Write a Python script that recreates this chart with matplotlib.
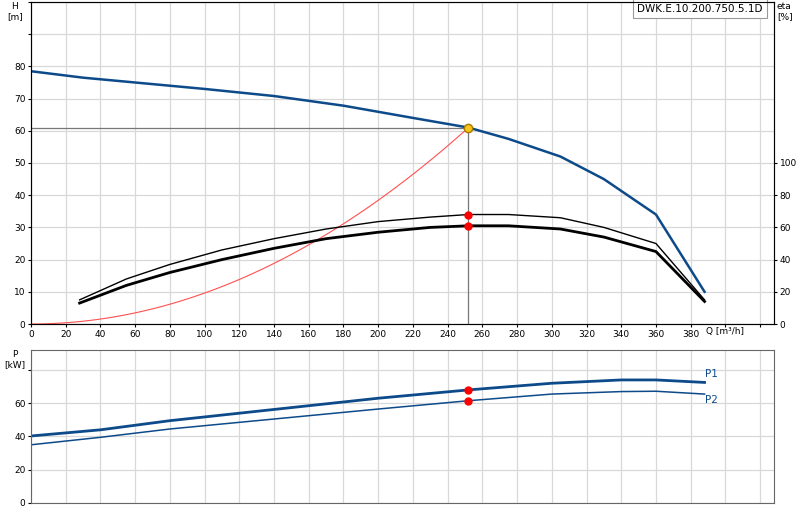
import matplotlib
matplotlib.use("Agg")
import matplotlib.pyplot as plt
import numpy as np

q_h = [0, 30, 60, 100, 140, 180, 220, 252, 275, 305, 330, 360, 388]
h = [78.5, 76.5, 75, 73, 70.8, 67.8, 64, 61, 57.5, 52, 45, 34, 10]
q_e = [28, 55, 80, 110, 140, 170, 200, 230, 252, 275, 305, 330, 360, 388]
eta_hi = [15, 28, 37, 46, 53, 59, 63.6, 66.4, 68, 68, 66, 60, 50, 15]
eta_lo = [13, 24, 32, 40, 47, 53, 57, 60, 61, 61, 59, 54, 45, 14]
q_p = [0, 40, 80, 120, 160, 200, 252, 300, 340, 360, 388]
p1 = [40.3, 44, 49.5, 54, 58.5, 63, 68, 72, 74, 74, 72.5]
p2 = [35, 39.5, 44.5, 48.5, 52.5, 56.5, 61.5, 65.5, 67, 67.2, 65.5]
q_duty, h_duty, eta1_duty, eta2_duty = 252, 61, 68, 61
p1_duty, p2_duty = 68, 61.5

fig = plt.figure(figsize=(8, 5.2), dpi=100)
W, H = 800, 520
L, R = 31, 774
ax = fig.add_axes([L/W, 1-324/H, (R-L)/W, 322/H])
bx = fig.add_axes([L/W, 1-503/H, (R-L)/W, 153/H])
blue = "#0d4a8a"
gc = "#d8d8d8"
for a in (ax, bx):
    a.set_xlim(0, 428)
    a.set_xticks(list(range(0, 440, 20)))
    a.grid(True, color=gc, lw=0.9)
    a.tick_params(labelsize=6.5, length=2, pad=2)
    for s in a.spines.values():
        s.set_color("#666666")
ax.set_xticklabels([str(t) if t <= 380 else "" for t in range(0, 440, 20)])
bx.set_xticklabels([])
bx.tick_params(axis="x", length=0)
ax.set_ylim(0, 100)
ax.set_yticks(range(0, 101, 10))
ax.set_yticklabels([str(t) if t <= 80 else "" for t in range(0, 101, 10)])
ax2 = ax.twinx()
ax2.set_ylim(0, 200)
ax2.set_yticks(range(0, 101, 20))
ax2.tick_params(labelsize=6.5, length=2, pad=2)

qs = np.linspace(0, q_duty, 60)
ax.plot(qs, h_duty*(qs/q_duty)**2, color="#ff5050", lw=0.8)
ax.plot([q_duty, q_duty], [0, h_duty], color="#777777", lw=0.9)
ax.plot([0, q_duty], [h_duty, h_duty], color="#777777", lw=0.9)
ax.plot(q_h, h, color=blue, lw=1.8)
ax2.plot(q_e, eta_hi, color="black", lw=1.0)
ax2.plot(q_e, eta_lo, color="black", lw=2.0)
ax2.plot([q_duty]*2, [eta1_duty, eta2_duty], "o", color="red", ms=5)
ax.plot([q_duty], [h_duty], "o", color="#f5c518", mec="#aa7700", ms=6, zorder=5)
ax.text(-0.022, 1.0, "H\n[m]", transform=ax.transAxes, fontsize=6.5, ha="center", va="top")
ax2.text(1.004, 1.0, "eta\n[%]", transform=ax2.transAxes, fontsize=6.5, ha="left", va="top")
ax.text(400, -1, "Q [m³/h]", fontsize=6.5, ha="center", va="top")
ax.text(0.985, 0.995, "DWK.E.10.200.750.5.1D", transform=ax.transAxes, fontsize=7.5,
        ha="right", va="top", bbox=dict(fc="white", ec="#999999", lw=0.8, pad=3))

bx.set_ylim(0, 92)
bx.set_yticks(range(0, 81, 20))
bx.set_yticklabels(["0", "20", "40", "60", ""])
bx.plot(q_p, p1, color=blue, lw=2.0)
bx.plot(q_p, p2, color=blue, lw=1.1)
bx.plot([q_duty]*2, [p1_duty, p2_duty], "o", color="red", ms=5)
bx.text(388, 76, "P1", color=blue, fontsize=7.5)
bx.text(388, 60, "P2", color=blue, fontsize=7.5)
bx.text(-0.022, 1.0, "P\n[kW]", transform=bx.transAxes, fontsize=6.5, ha="center", va="top")
fig.savefig("out.png", dpi=100)
